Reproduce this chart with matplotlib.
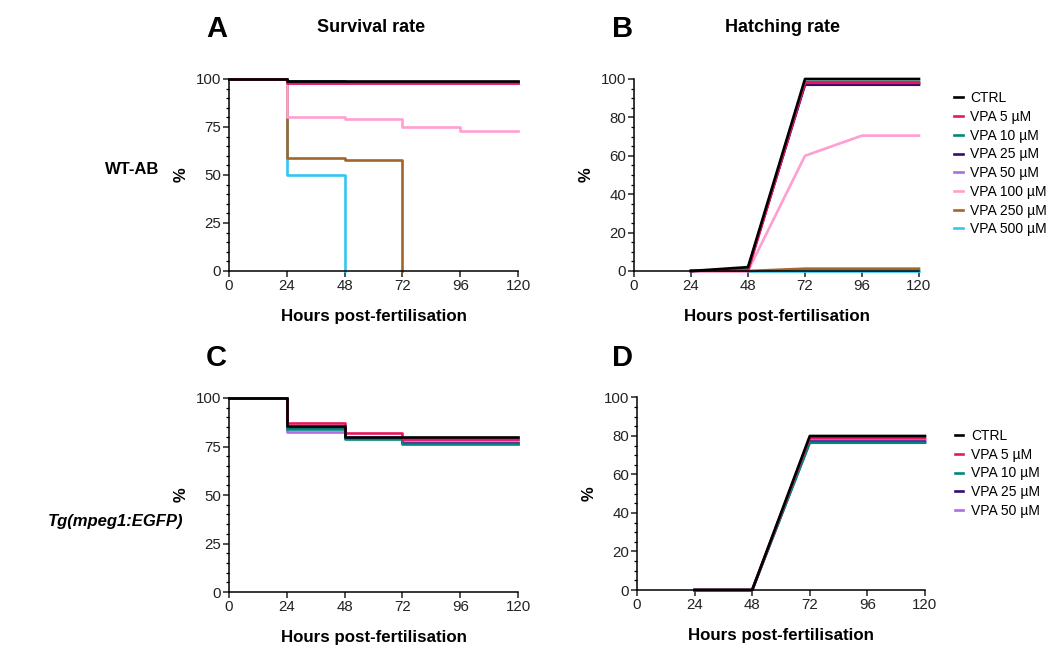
import numpy as np
import matplotlib
matplotlib.use("Agg")
import matplotlib.pyplot as plt
from matplotlib.ticker import MultipleLocator

plt.rcParams['font.family'] = ['Liberation Sans', 'DejaVu Sans']

# === data ===
labels_all = ["CTRL", "VPA 5 µM", "VPA 10 µM", "VPA 25 µM", "VPA 50 µM",
              "VPA 100 µM", "VPA 250 µM", "VPA 500 µM"]
colors_all = ["black", "#e8175d", "#00877f", "#3a0a6e", "#b36ae2",
              "#ff9fd0", "#a0662a", "#35c6f0"]

# survival A (WT-AB), Kaplan-Meier steps
surv_a_t = {
    "CTRL": [0, 24, 48, 72, 96, 120],
    "VPA 5 µM": [0, 24, 48, 72, 96, 120],
    "VPA 10 µM": [0, 24, 48, 72, 96, 120],
    "VPA 25 µM": [0, 24, 48, 72, 96, 120],
    "VPA 50 µM": [0, 24, 48, 72, 96, 120],
    "VPA 100 µM": [0, 24, 48, 72, 96, 120],
    "VPA 250 µM": [0, 24, 48, 72],
    "VPA 500 µM": [0, 24, 48],
}
surv_a_v = {
    "CTRL": [100, 99, 99, 99, 99, 99],
    "VPA 5 µM": [100, 98, 98, 98, 98, 98],
    "VPA 10 µM": [100, 99, 98.5, 98.5, 98.5, 98.5],
    "VPA 25 µM": [100, 98.5, 98.5, 98.5, 98.5, 98.5],
    "VPA 50 µM": [100, 98, 98, 98, 98, 98],
    "VPA 100 µM": [100, 80, 79, 75, 73, 73],
    "VPA 250 µM": [100, 59, 58, 0],
    "VPA 500 µM": [100, 50, 0],
}

# hatching B (WT-AB)
hatch_b_t = {
    "CTRL": [24, 48, 72, 96, 120],
    "VPA 5 µM": [24, 48, 72, 96, 120],
    "VPA 10 µM": [24, 48, 72, 96, 120],
    "VPA 25 µM": [24, 48, 72, 96, 120],
    "VPA 50 µM": [24, 48, 72, 96, 120],
    "VPA 100 µM": [24, 48, 72, 96, 120],
    "VPA 250 µM": [48, 72, 96, 120],
    "VPA 500 µM": [48, 72, 96, 120],
}
hatch_b_v = {
    "CTRL": [0, 2, 100, 100, 100],
    "VPA 5 µM": [0, 0, 98, 98, 98],
    "VPA 10 µM": [0, 1, 98.5, 98.5, 98.5],
    "VPA 25 µM": [0, 1, 97, 97, 97],
    "VPA 50 µM": [0, 1, 97.5, 97.5, 97.5],
    "VPA 100 µM": [0, 0, 60, 70.5, 70.5],
    "VPA 250 µM": [0, 1.2, 1.2, 1.2],
    "VPA 500 µM": [0, 0, 0, 0],
}

# survival C (Tg(mpeg1:EGFP))
surv_c_t = [0, 24, 48, 72, 120]
surv_c_v = {
    "CTRL": [100, 85.5, 80, 80, 80],
    "VPA 5 µM": [100, 87, 82, 79, 79],
    "VPA 10 µM": [100, 84, 79, 76.5, 76.5],
    "VPA 25 µM": [100, 84.5, 79.5, 77, 77],
    "VPA 50 µM": [100, 82.5, 80, 78.5, 78.5],
}

# hatching D (Tg(mpeg1:EGFP))
hatch_d_t = [24, 48, 72, 96, 120]
hatch_d_v = {
    "CTRL": [0, 0, 80, 80, 80],
    "VPA 5 µM": [0, 0, 79, 79, 79],
    "VPA 10 µM": [0, 0, 76.5, 76.5, 76.5],
    "VPA 25 µM": [0, 0, 77, 77, 77],
    "VPA 50 µM": [0, 0, 78, 78, 78],
}

x_ticks = [0, 24, 48, 72, 96, 120]
lw = 1.9


def style_axes(ax, ymajor, yminor):
    ax.spines['top'].set_visible(False)
    ax.spines['right'].set_visible(False)
    ax.spines['left'].set_linewidth(1.1)
    ax.spines['bottom'].set_linewidth(1.1)
    ax.set_xlim(0, 120)
    ax.set_ylim(0, 100)
    ax.set_xticks(x_ticks)
    ax.yaxis.set_major_locator(MultipleLocator(ymajor))
    ax.yaxis.set_minor_locator(MultipleLocator(yminor))
    ax.tick_params(axis='both', which='major', labelsize=10.8, length=4,
                   width=1.1, pad=1.5, colors='#222222')
    ax.tick_params(axis='y', which='minor', length=2.5, width=0.9)
    ax.set_xlabel("Hours post-fertilisation", fontsize=12.2, fontweight='bold',
                  labelpad=12)
    ax.set_ylabel("%", fontsize=12, fontweight='bold', labelpad=5)


fig = plt.figure(figsize=(10.51, 6.5), dpi=100)
axA = fig.add_axes([0.2179, 0.5831, 0.2750, 0.2954])
axB = fig.add_axes([0.6032, 0.5831, 0.2712, 0.2954])
axC = fig.add_axes([0.2179, 0.0892, 0.2750, 0.2985])
axD = fig.add_axes([0.6061, 0.0923, 0.2740, 0.2962])

# draw order: last series first so CTRL sits on top
order = list(range(len(labels_all)))[::-1]

# === A ===
for i in order:
    name = labels_all[i]
    axA.step(surv_a_t[name], surv_a_v[name], where='post',
             color=colors_all[i], lw=lw, clip_on=False)
style_axes(axA, 25, 5)

# === B ===
handles = {}
for i in order:
    name = labels_all[i]
    ln, = axB.plot(hatch_b_t[name], hatch_b_v[name], color=colors_all[i],
                   lw=lw, clip_on=False, label=name)
    handles[name] = ln
style_axes(axB, 20, 5)
axB.legend([handles[n] for n in labels_all], labels_all, loc='upper left',
           bbox_to_anchor=(1.105, 0.965), frameon=False, fontsize=10,
           handlelength=0.6, handletextpad=0.55, labelspacing=0.34,
           borderaxespad=0)

# === C ===
names_c = labels_all[:5]
for i in range(4, -1, -1):
    name = names_c[i]
    axC.step(surv_c_t, surv_c_v[name], where='post', color=colors_all[i],
             lw=lw, clip_on=False)
style_axes(axC, 25, 5)

# === D ===
handles_d = {}
for i in range(4, -1, -1):
    name = names_c[i]
    ln, = axD.plot(hatch_d_t, hatch_d_v[name], color=colors_all[i], lw=lw,
                   clip_on=False)
    handles_d[name] = ln
style_axes(axD, 20, 5)
axD.legend([handles_d[n] for n in names_c], names_c, loc='upper left',
           bbox_to_anchor=(1.085, 0.865), frameon=False, fontsize=10,
           handlelength=0.6, handletextpad=0.55, labelspacing=0.34,
           borderaxespad=0)

# === panel letters, titles, row labels ===
fig.text(0.196, 0.955, "A", fontsize=21, fontweight='bold', va='center')
fig.text(0.582, 0.955, "B", fontsize=21, fontweight='bold', va='center')
fig.text(0.196, 0.450, "C", fontsize=21, fontweight='bold', va='center')
fig.text(0.582, 0.450, "D", fontsize=21, fontweight='bold', va='center')
fig.text(0.353, 0.957, "Survival rate", fontsize=13, fontweight='bold',
         ha='center', va='center')
fig.text(0.745, 0.957, "Hatching rate", fontsize=13, fontweight='bold',
         ha='center', va='center')
fig.text(0.126, 0.740, "WT-AB", fontsize=12, fontweight='bold',
         ha='center', va='center')
fig.text(0.110, 0.198, "Tg(mpeg1:EGFP)", fontsize=12, fontweight='bold',
         fontstyle='italic', ha='center', va='center')

fig.savefig("out.png", dpi=100)
